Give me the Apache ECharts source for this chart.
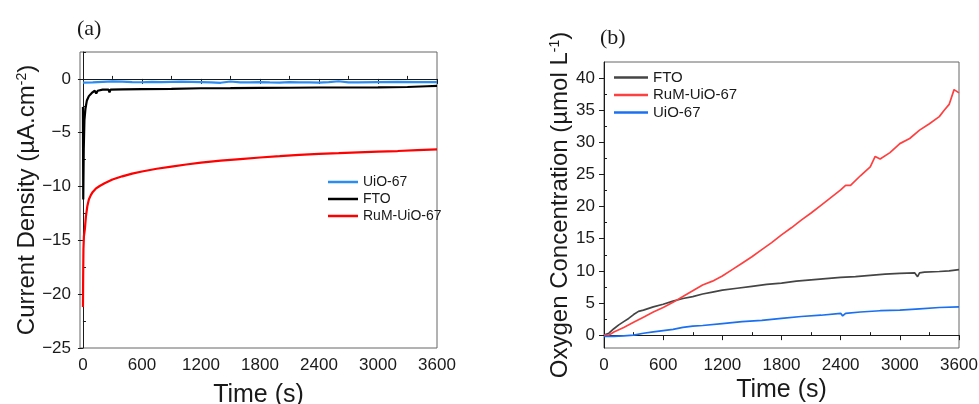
<!DOCTYPE html>
<html>
<head>
<meta charset="utf-8">
<script src="https://cdn.jsdelivr.net/npm/echarts@6/dist/echarts.min.js"></script>
<style>
  html, body { margin: 0; padding: 0; background: #fff; }
  #wrap { position: relative; width: 979px; height: 404px; }
  #chartA { position: absolute; left: 0; top: 0; width: 490px; height: 404px; }
  #chartB { position: absolute; left: 490px; top: 0; width: 489px; height: 404px; }
</style>
</head>
<body>
<div id="wrap">
  <div id="chartA"></div>
  <div id="chartB"></div>
</div>
<script>
// ---- panel (a): current density vs time ----
const uioA_t = [0, 100, 200, 300, 400, 500, 600, 700, 800, 900, 1000, 1100, 1200, 1300, 1400, 1500, 1600, 1700, 1800, 1900, 2000, 2100, 2200, 2300, 2400, 2500, 2600, 2700, 2800, 3000, 3200, 3400, 3600]
const uioA_v = [-0.35, -0.33, -0.27, -0.22, -0.25, -0.3, -0.31, -0.28, -0.3, -0.27, -0.25, -0.27, -0.3, -0.33, -0.36, -0.24, -0.33, -0.32, -0.3, -0.33, -0.35, -0.3, -0.33, -0.32, -0.35, -0.3, -0.22, -0.32, -0.33, -0.3, -0.28, -0.3, -0.3]

const ftoA_t = [0, 3, 8, 15, 25, 40, 60, 90, 120, 135, 150, 200, 260, 270, 280, 400, 600, 900, 1200, 1500, 1800, 2100, 2400, 2700, 3000, 3300, 3500, 3600]
const ftoA_v = [-2.6, -11.2, -6.5, -3.8, -2.8, -2.0, -1.6, -1.3, -1.1, -1.35, -1.1, -1.0, -1.0, -1.25, -1.0, -0.97, -0.95, -0.92, -0.87, -0.86, -0.84, -0.82, -0.8, -0.8, -0.78, -0.75, -0.68, -0.65]

const rumA_t = [0, 2, 5, 10, 20, 30, 45, 60, 80, 100, 130, 170, 220, 300, 400, 500, 600, 750, 900, 1050, 1200, 1400, 1600, 1800, 2000, 2200, 2400, 2600, 2800, 3000, 3200, 3400, 3600]
const rumA_v = [-21.2, -18.5, -15.8, -14.6, -13.9, -12.8, -11.8, -11.2, -10.8, -10.5, -10.2, -9.95, -9.7, -9.35, -9.05, -8.8, -8.6, -8.35, -8.15, -7.95, -7.78, -7.6, -7.45, -7.3, -7.18, -7.05, -6.97, -6.9, -6.82, -6.75, -6.7, -6.62, -6.55]

// ---- panel (b): oxygen concentration vs time ----
const ftoB_t = [0, 50, 100, 150, 200, 250, 300, 350, 400, 500, 600, 700, 800, 900, 1000, 1100, 1200, 1350, 1500, 1650, 1800, 1950, 2100, 2250, 2400, 2550, 2700, 2850, 3000, 3150, 3180, 3200, 3250, 3400, 3500, 3600]
const ftoB_v = [0, 0.3, 1.0, 1.6, 2.1, 2.6, 3.2, 3.7, 3.9, 4.4, 4.8, 5.3, 5.7, 6.0, 6.4, 6.7, 7.0, 7.3, 7.6, 7.9, 8.1, 8.4, 8.6, 8.8, 9.0, 9.1, 9.3, 9.5, 9.6, 9.7, 9.1, 9.7, 9.8, 9.9, 10.0, 10.2]

const rumB_t = [0, 50, 100, 200, 300, 400, 500, 600, 700, 800, 900, 1000, 1100, 1200, 1300, 1400, 1500, 1600, 1700, 1800, 1900, 2000, 2100, 2200, 2300, 2400, 2450, 2500, 2600, 2700, 2750, 2800, 2900, 3000, 3100, 3200, 3300, 3400, 3450, 3500, 3550, 3600]
const rumB_v = [0, 0, 0.5, 1.2, 2.0, 2.8, 3.6, 4.3, 5.1, 6.0, 6.9, 7.8, 8.4, 9.2, 10.2, 11.2, 12.2, 13.3, 14.4, 15.6, 16.7, 17.9, 19.0, 20.2, 21.4, 22.6, 23.3, 23.3, 24.8, 26.2, 27.8, 27.4, 28.4, 29.8, 30.6, 31.9, 32.9, 34.0, 35.0, 35.9, 38.2, 37.7]

const uioB_t = [0, 100, 200, 300, 400, 500, 600, 700, 800, 900, 1000, 1200, 1400, 1600, 1800, 2000, 2200, 2400, 2420, 2450, 2600, 2800, 3000, 3200, 3400, 3600]
const uioB_v = [-0.2, -0.2, -0.1, 0.0, 0.3, 0.5, 0.7, 0.9, 1.2, 1.4, 1.5, 1.8, 2.1, 2.3, 2.6, 2.9, 3.1, 3.4, 3.0, 3.4, 3.6, 3.8, 3.9, 4.1, 4.3, 4.4]

// ticks
const timeTicks = [0, 600, 1200, 1800, 2400, 3000, 3600]
const timeMinor = [300, 900, 1500, 2100, 2700, 3300]
const yTicksA = [-25, -20, -15, -10, -5, 0]
const yMinorA = [-22.5, -17.5, -12.5, -7.5, -2.5, 2.5]
const yTicksB = [0, 5, 10, 15, 20, 25, 30, 35, 40]
const yMinorB = [2.5, 7.5, 12.5, 17.5, 22.5, 27.5, 32.5, 37.5]

const FONT = 'Arial, "Liberation Sans", sans-serif'
const SERIF = '"Liberation Serif", "Times New Roman", serif'
const INK = '#1a1a1a'

const pairs = (t, v) => t.map((x, i) => [x, v[i]])
const minus = v => String(v).replace('-', '\u2212')

function majorAxis(min, max, ticks, extra) {
  return Object.assign({
    type: 'value', min, max,
    axisLine: { show: true, lineStyle: { color: INK, width: 1 } },
    axisTick: { show: true, customValues: ticks, length: 5, lineStyle: { color: INK } },
    axisLabel: { customValues: ticks, fontFamily: FONT, fontSize: 17, color: INK, margin: 9, formatter: minus },
    splitLine: { show: false },
    nameLocation: 'middle',
    nameMoveOverlap: false,
  }, extra)
}
function minorAxis(min, max, ticks) {
  return {
    type: 'value', min, max,
    axisLine: { show: false },
    axisTick: { show: true, customValues: ticks, length: 3, lineStyle: { color: INK } },
    axisLabel: { show: false },
    splitLine: { show: false },
  }
}
function yName(text) {
  return {
    name: text,
    nameTextStyle: { rich: {
      n: { fontFamily: FONT, fontSize: 24, color: INK },
      s: { fontFamily: FONT, fontSize: 14, color: INK, verticalAlign: 'top' },
    } },
  }
}
function line(name, data, color, width) {
  return {
    name, type: 'line', data, symbol: 'none',
    lineStyle: { color, width }, itemStyle: { color }, animation: false,
  }
}
function legendAt(left, top, w, size, gap, names) {
  return {
    orient: 'vertical', left, top, icon: 'rect', itemWidth: w, itemHeight: 2.5, itemGap: gap, itemTextGap: 4,
    textStyle: { fontFamily: FONT, fontSize: size, color: INK },
    data: names,
  }
}

const chartA = echarts.init(document.getElementById('chartA'))
chartA.setOption({
  animation: false,
  title: { text: '(a)', left: 72, top: 13, textStyle: { fontFamily: SERIF, fontSize: 22, fontWeight: 'normal', color: INK } },
  grid: { left: 80, top: 52, width: 357, height: 296, show: true, borderColor: '#666', borderWidth: 1, outerBoundsMode: 'none' },
  legend: legendAt(323, 170, 30, 14, 3, ['UiO-67', 'FTO', 'RuM-UiO-67']),
  xAxis: [
    majorAxis(-30, 3600, timeTicks, {
      name: 'Time (s)', nameGap: 35,
      nameTextStyle: { fontFamily: FONT, fontSize: 25, color: INK },
    }),
    minorAxis(-30, 3600, timeMinor),
  ],
  yAxis: [
    majorAxis(-25, 2.5, yTicksA, Object.assign({ nameGap: 41 }, yName('{n|Current Density (µA.cm}{s|-2}{n|)}'))),
    minorAxis(-25, 2.5, yMinorA),
  ],
  series: [
    line('UiO-67', pairs(uioA_t, uioA_v), '#2b8cf2', 2.2),
    line('FTO', pairs(ftoA_t, ftoA_v), '#000000', 2.2),
    line('RuM-UiO-67', pairs(rumA_t, rumA_v), '#ff0000', 2.2),
  ],
})

const chartB = echarts.init(document.getElementById('chartB'))
chartB.setOption({
  animation: false,
  title: { text: '(b)', left: 105, top: 22, textStyle: { fontFamily: SERIF, fontSize: 22, fontWeight: 'normal', color: INK } },
  grid: { left: 114, top: 62, width: 355, height: 286, show: true, borderColor: '#666', borderWidth: 1, outerBoundsMode: 'none' },
  legend: legendAt(119, 65, 34, 15, 2.5, ['FTO', 'RuM-UiO-67', 'UiO-67']),
  xAxis: [
    majorAxis(0, 3600, timeTicks, {
      name: 'Time (s)', nameGap: 30,
      nameTextStyle: { fontFamily: FONT, fontSize: 25, color: INK },
    }),
    minorAxis(0, 3600, timeMinor),
  ],
  yAxis: [
    majorAxis(-2, 42.5, yTicksB, Object.assign({ nameGap: 32 }, yName('{n|Oxygen Concentration (µmol L}{s|-1}{n|)}'))),
    minorAxis(-2, 42.5, yMinorB),
  ],
  series: [
    line('FTO', pairs(ftoB_t, ftoB_v), '#454545', 1.7),
    line('RuM-UiO-67', pairs(rumB_t, rumB_v), '#ff4040', 1.7),
    line('UiO-67', pairs(uioB_t, uioB_v), '#1a70f0', 1.7),
  ],
})
</script>
</body>
</html>
